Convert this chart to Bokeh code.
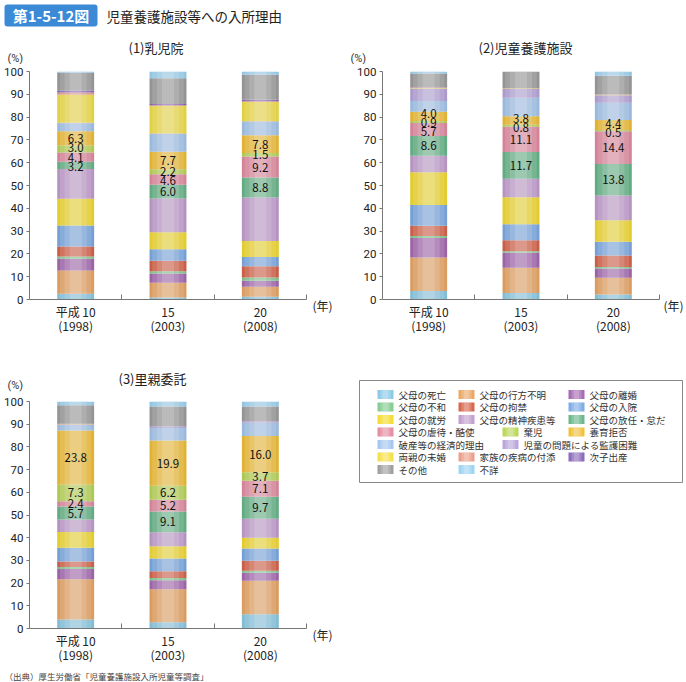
import numpy as np
from bokeh.plotting import figure
from bokeh.models import Range1d, FixedTicker, ColumnDataSource, BoxAnnotation
from bokeh.layouts import column, row
from bokeh.embed import file_html
from bokeh.resources import INLINE
from bokeh.core.properties import value

FONT = "Noto Sans CJK JP"
NUM_FONT = "Roboto"

# ---------------- data ----------------
CATEGORIES = ["父母の死亡", "父母の行方不明", "父母の離婚", "父母の不和", "父母の拘禁",
              "父母の入院", "父母の就労", "父母の精神疾患等", "父母の放任・怠だ",
              "父母の虐待・酷使", "棄児", "養育拒否", "破産等の経済的理由",
              "児童の問題による監護困難", "両親の未婚", "家族の疾病の付添", "次子出産",
              "その他", "不詳"]
COLORS = ["#8ccbe6", "#eba868", "#a86cb4", "#86cc94", "#d9674e",
          "#7fade6", "#f4dc34", "#c4a0d0", "#6bb88c",
          "#e48ea4", "#bcd85c", "#f2c13c", "#a6c8ee",
          "#b9a6dc", "#f4e04c", "#eca08c", "#8c6cbc",
          "#a0a0a0", "#9ed4f4"]
LABELED = ["父母の放任・怠だ", "父母の虐待・酷使", "棄児", "養育拒否"]
YEAR_ERA = ["平成 10", "15", "20"]
YEAR_AD = ["(1998)", "(2003)", "(2008)"]
PANEL_TITLES = ["(1)乳児院", "(2)児童養護施設", "(3)里親委託"]

# (1) 乳児院
NYUJI_1998 = [2.5, 10.2, 5.2, 1.0, 4.4, 9.2, 11.7, 13.0, 3.2, 4.1, 3.0, 6.3, 3.5, 0.2, 12.3, 1.0, 0.9, 7.8, 0.5]
NYUJI_2003 = [0.9, 6.4, 4.1, 1.0, 4.6, 5.0, 7.5, 14.8, 6.0, 4.6, 2.2, 7.7, 7.8, 0.2, 12.1, 0.3, 0.5, 11.3, 3.0]
NYUJI_2008 = [1.2, 4.4, 2.6, 1.4, 5.0, 4.0, 7.1, 19.0, 8.8, 9.2, 1.5, 7.8, 6.0, 0.2, 8.4, 0.3, 0.7, 11.0, 1.4]
# (2) 児童養護施設
YOGO_1998 = [3.7, 14.7, 8.6, 0.9, 4.4, 9.1, 14.4, 7.3, 8.6, 5.7, 0.9, 4.0, 4.8, 5.4, 0.3, 0.2, 0.1, 6.0, 0.9]
YOGO_2003 = [2.9, 11.0, 6.6, 0.7, 4.8, 7.0, 11.9, 8.1, 11.7, 11.1, 0.8, 3.8, 8.1, 3.8, 0.2, 0.1, 0.1, 7.3, 0.0]
YOGO_2008 = [2.2, 7.3, 4.1, 0.7, 5.0, 6.0, 9.5, 10.8, 13.8, 14.4, 0.5, 4.4, 7.6, 3.3, 0.2, 0.1, 0.1, 8.1, 1.9]
# (3) 里親委託
SATOOYA_1998 = [4.0, 17.7, 4.5, 0.9, 2.4, 6.1, 6.9, 5.5, 5.7, 2.4, 7.3, 23.8, 2.5, 0.2, 0.1, 0.1, 0.1, 8.2, 1.6]
SATOOYA_2003 = [2.8, 14.5, 4.0, 1.0, 2.9, 5.6, 5.4, 6.2, 9.1, 5.2, 6.2, 19.9, 5.5, 0.8, 0.0, 0.0, 0.0, 8.7, 2.2]
SATOOYA_2008 = [6.3, 14.7, 3.6, 0.8, 4.4, 5.4, 4.8, 8.3, 9.7, 7.1, 3.7, 16.0, 5.8, 0.7, 0.0, 0.0, 0.0, 6.5, 2.2]


def no_align(p):
    if hasattr(p, "frame_align"):
        p.frame_align = False
    return p


def spread(ys, gap):
    ys = list(ys)
    for _ in range(60):
        moved = False
        for i in range(1, len(ys)):
            d = ys[i] - ys[i - 1]
            if d < gap:
                s = (gap - d) / 2
                ys[i] += s
                ys[i - 1] -= s
                moved = True
        if not moved:
            break
    return ys


def blank(width, height):
    p = figure(width=width, height=height, x_range=Range1d(0, width), y_range=Range1d(height, 0),
               x_axis_type=None, y_axis_type=None, output_backend="svg", toolbar_location=None,
               min_border=0)
    p.outline_line_color = None
    p.grid.visible = False
    return no_align(p)


def put_text(p, x, y, txt, size, color="#222222", align="left", style="normal", font=FONT):
    p.text(x=[x], y=[y], text=[txt], text_align=align, text_baseline="middle",
           text_font=value(font), text_font_size=size, text_color=color, text_font_style=style)


def make_plot(series, width, height, bl, br, bt, bb):
    p = figure(width=width, height=height, x_range=Range1d(0.5, 3.5), y_range=Range1d(0, 100),
               output_backend="svg", toolbar_location=None,
               min_border_left=bl, min_border_right=br, min_border_top=bt, min_border_bottom=bb)
    no_align(p)
    p.outline_line_color = None
    p.grid.visible = False

    xs = [i + 1 for i in range(len(YEAR_ERA))]
    data = {"x": xs, "total": [sum(s) for s in series]}
    for j, c in enumerate(CATEGORIES):
        data[c] = [s[j] for s in series]
    src = ColumnDataSource(data)
    p.vbar_stack(CATEGORIES, x="x", width=0.4, fill_color=COLORS, line_color=None, source=src)
    # cylinder shading
    p.vbar(x="x", top="total", bottom=0, width=0.4, fill_color="black", fill_alpha=0.07,
           line_color=None, source=src)
    for w, a in [(0.34, 0.13), (0.24, 0.14), (0.13, 0.16)]:
        p.vbar(x="x", top="total", bottom=0, width=w, fill_color="white", fill_alpha=a,
               line_color=None, source=src)

    lx, ly, lt = [], [], []
    for k, s in enumerate(series):
        cum = np.cumsum([0] + list(s))
        ys = []
        for c in LABELED:
            j = CATEGORIES.index(c)
            ys.append((cum[j] + cum[j + 1]) / 2)
        ys = spread(ys, 4.1)
        for c, yv in zip(LABELED, ys):
            lx.append(xs[k])
            ly.append(yv)
            lt.append(f"{s[CATEGORIES.index(c)]:.1f}")
    p.text(x=lx, y=ly, text=lt, text_align="center", text_baseline="middle",
           text_font=value(FONT), text_font_size="11.5px", text_color="#111111")

    p.xaxis.ticker = FixedTicker(ticks=xs, minor_ticks=[1.5, 2.5, 3.5])
    p.xaxis.major_label_overrides = {x: f"{e}\n{a}" for x, e, a in zip(xs, YEAR_ERA, YEAR_AD)}
    p.xaxis.major_tick_in = 0
    p.xaxis.major_tick_out = 0
    p.xaxis.minor_tick_in = 5
    p.xaxis.minor_tick_out = 0
    p.xaxis.major_label_standoff = 3
    p.xaxis.major_label_text_font_size = "12px"
    p.xaxis.major_label_text_line_height = 0.86
    p.xaxis.major_label_text_font = FONT

    p.yaxis.ticker = FixedTicker(ticks=list(range(0, 101, 10)), minor_ticks=[])
    p.yaxis.major_tick_out = 3
    p.yaxis.major_tick_in = 0
    p.yaxis.minor_tick_in = 0
    p.yaxis.minor_tick_out = 0
    p.yaxis.major_label_standoff = 3
    p.yaxis.major_label_text_font_size = "11.5px"
    p.yaxis.major_label_text_font = NUM_FONT

    for ax in (p.xaxis, p.yaxis):
        ax.axis_line_color = "#777777"
        ax.major_tick_line_color = "#777777"
        ax.minor_tick_line_color = "#777777"
        ax.major_label_text_color = "#222222"
    return p


def panel(title, series, width_plot, width_right, top_h, plot_h, bl, bt, bb,
          title_x, title_y, pct_x, pct_y, nen_x, nen_y):
    t = blank(width_plot + width_right, top_h)
    put_text(t, title_x, title_y, title, "13px")
    put_text(t, pct_x, pct_y, "(%)", "11px", color="#333333", font=NUM_FONT)
    p = make_plot(series, width_plot, plot_h, bl, 2, bt, bb)
    r = blank(width_right, plot_h)
    put_text(r, nen_x, nen_y, "(年)", "12px")
    return column(t, row(p, r))


# header (0..36)
header = blank(686, 36)
header.add_layout(BoxAnnotation(left=4, right=97, top=4, bottom=26, fill_color="#3a8ad6",
                                fill_alpha=1, line_color=None, border_radius=3, level="underlay"))
put_text(header, 50.5, 15, "第1-5-12図", "15px", color="white", align="center", style="bold")
put_text(header, 106, 15, "児童養護施設等への入所理由", "13.5px")

# row 1 (36..343), row 2 (343..668)
b1 = panel(PANEL_TITLES[0], [NYUJI_1998, NYUJI_2003, NYUJI_2008],
           308, 35, 28, 279, 29, 7, 44, 128, 11, 7, 21.5, 4, 241)
b2 = panel(PANEL_TITLES[1], [YOGO_1998, YOGO_2003, YOGO_2008],
           318, 25, 28, 279, 39, 7, 44, 135, 11, 7, 21.5, 2, 241)
b3 = panel(PANEL_TITLES[2], [SATOOYA_1998, SATOOYA_2003, SATOOYA_2008],
           308, 35, 49, 276, 29, 9, 40, 118, 35, 7, 42, 4, 242)

# legend
leg = blank(343, 325)
leg.quad(left=[16], right=[339], top=[37], bottom=[139], fill_color=None, line_color="#888888",
         line_width=1)
COL_A, COL_B, COL_B2, COL_C = 34, 115, 159, 225
LEGEND_ROWS = [[COL_A, COL_B, COL_C], [COL_A, COL_B, COL_C], [COL_A, COL_B, COL_C],
               [COL_A, COL_B2, COL_C], [COL_A, COL_B2], [COL_A, COL_B, COL_C], [COL_A, COL_B]]
sx, sy = [], []
for r_i, cols in enumerate(LEGEND_ROWS):
    for cx in cols:
        sx.append(cx)
        sy.append(51 + 12.5 * r_i)
sx = np.array(sx, dtype=float)
sy = np.array(sy, dtype=float)
lsrc = ColumnDataSource(dict(x=sx + 8, y=sy, tx=sx + 21, name=CATEGORIES, color=COLORS))
leg.rect(x="x", y="y", width=16, height=9, fill_color="color", line_color=None, source=lsrc)
leg.rect(x="x", y="y", width=10, height=9, fill_color="white", fill_alpha=0.2, line_color=None, source=lsrc)
leg.rect(x="x", y="y", width=5, height=9, fill_color="white", fill_alpha=0.2, line_color=None, source=lsrc)
leg.text(x="tx", y="y", text="name", text_align="left", text_baseline="middle",
         text_font=value(FONT), text_font_size="9.5px", text_color="#333333", source=lsrc)

# source (668..682)
src_fig = blank(686, 14)
put_text(src_fig, 4, 7, "（出典）厚生労働省「児童養護施設入所児童等調査」", "8.5px", color="#444444")

layout = column(header, row(b1, b2), row(b3, leg), src_fig)
open("out.html", "w").write(file_html(layout, INLINE, title="児童養護施設等への入所理由"))
